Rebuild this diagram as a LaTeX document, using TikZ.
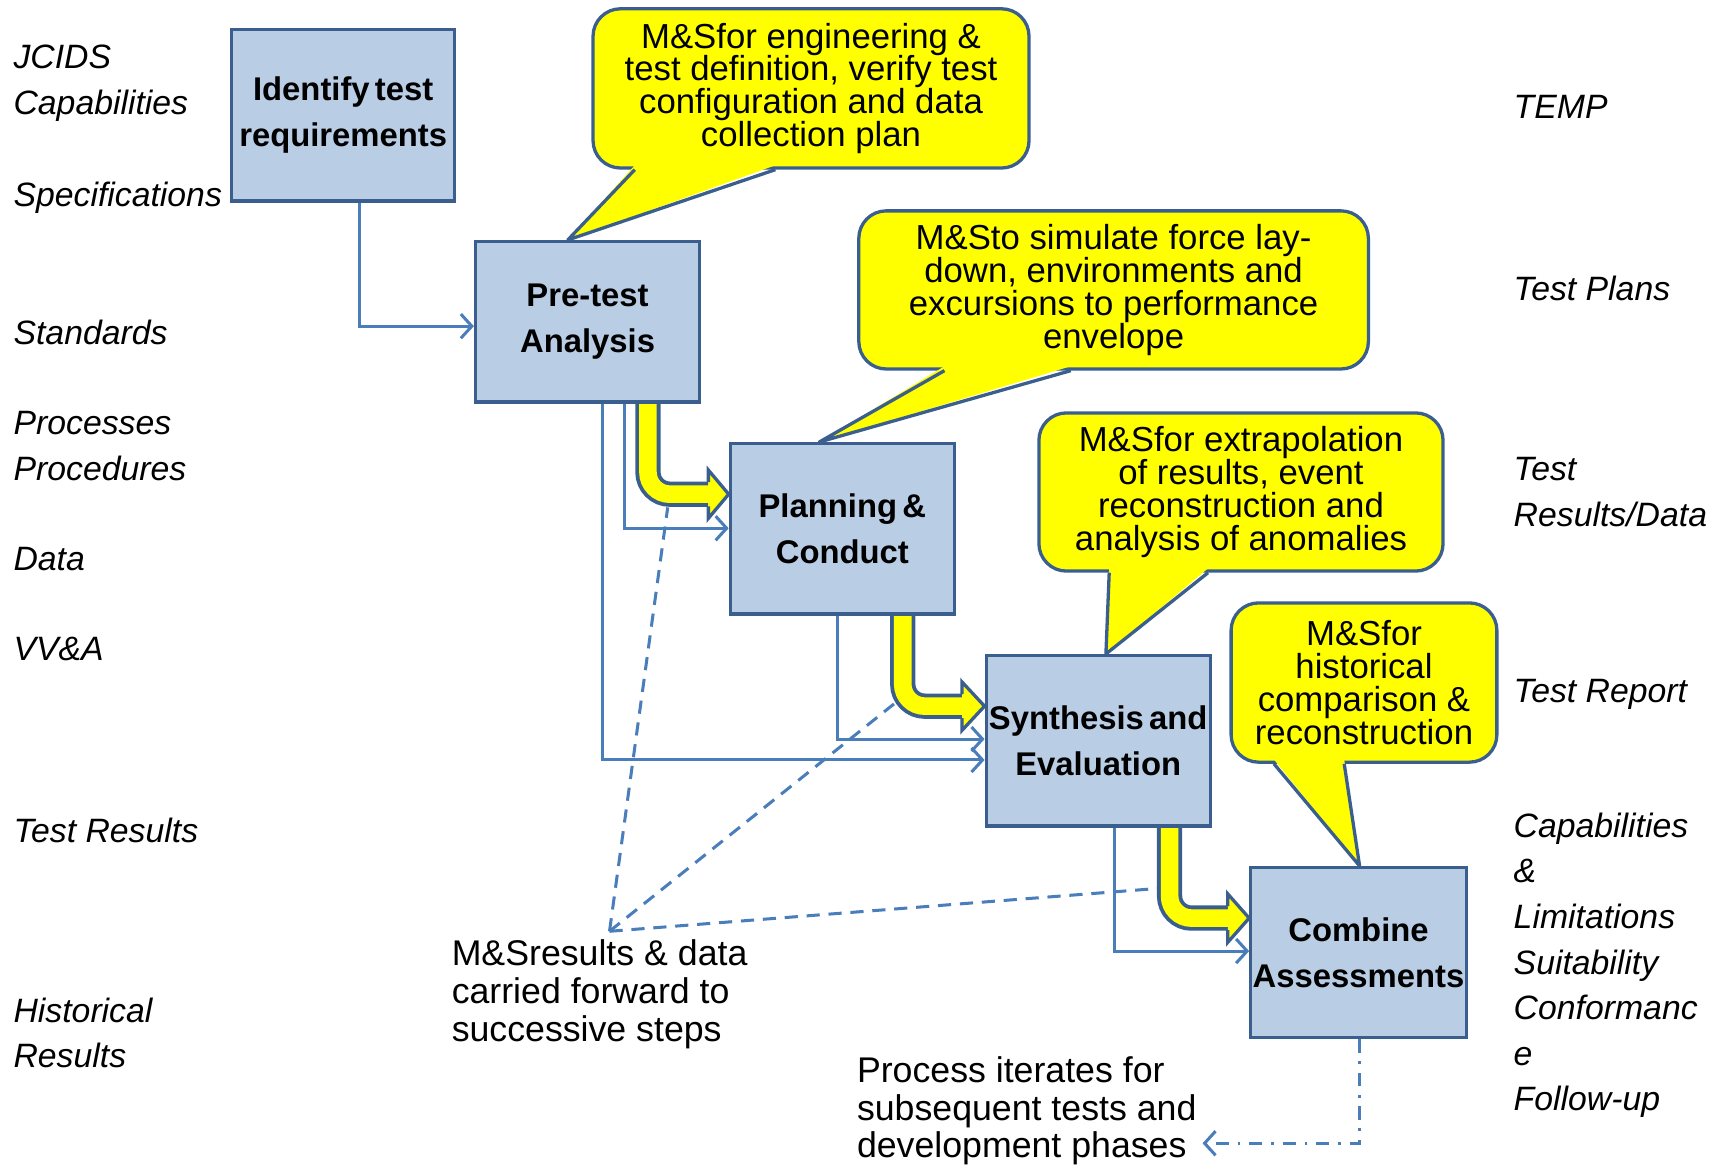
\documentclass[tikz,border=0pt]{standalone}
\usepackage{fontspec}
\setmainfont{Liberation Sans}
\usetikzlibrary{arrows.meta,calc,backgrounds}
\definecolor{boxfill}{HTML}{B9CDE5}
\definecolor{boxline}{HTML}{3A5F8F}
\definecolor{flowblue}{HTML}{4A7EBB}
\definecolor{calloutyellow}{HTML}{FFFF00}
\newcommand\boxfont{\fontsize{17}{24}\selectfont\bfseries\spaceskip=0.16em\relax}
\newcommand\calloutptr[4]{%
  \fill[calloutyellow] ($(#2,0 |- #1.south)+(0,-4)$) -- #4 -- ($(#3,0 |- #1.south)+(0,-4)$) -- cycle;
  \draw[boxline, line width=0.6mm, line join=round] (#2,0 |- #1.south) -- #4 -- (#3,0 |- #1.south);}
\newcommand\fatarrow[3]{%
  \draw[fatout] #1 |- #2;
  \draw[fatin] #1 |- ($#2+(2,0)$);
  \fill[calloutyellow] ($#2+(0,-22)$) -- #3 -- ($#2+(0,22)$) -- cycle;
  \draw[boxline, line width=0.6mm, line join=miter] ($#2+(0,-11)$) -- ($#2+(0,-22)$) -- #3 -- ($#2+(0,22)$) -- ($#2+(0,11)$);}

\begin{document}
\begin{tikzpicture}[
  x=0.2mm, y=-0.2mm,
  box/.style={draw=boxline, fill=boxfill, line width=0.6mm, minimum width=40.8mm, minimum height=31mm, align=center, font=\boxfont, inner sep=1pt},
  callout/.style={draw=boxline, fill=calloutyellow, line width=0.6mm, rounded corners=5mm, align=center, font=\fontsize{18}{17}\selectfont, inner sep=1pt},
  lbl/.style={anchor=west, align=left, font=\fontsize{17.5}{23.6}\selectfont\itshape, inner sep=0pt},
  note/.style={anchor=west, align=left, font=\fontsize{18.5}{19.6}\selectfont, inner sep=0pt},
  flow/.style={draw=flowblue, line width=0.55mm, -{Straight Barb[length=2mm,width=4.4mm]}},
  carry/.style={draw=flowblue, line width=0.55mm, dash pattern=on 2.4mm off 1.6mm},
  fatout/.style={draw=boxline, line width=4.6mm, rounded corners=4mm},
  fatin/.style={draw=calloutyellow, line width=3.2mm, rounded corners=4mm}
]
\useasboundingbox (0,0) rectangle (1568,1064);

\node[box, minimum width=40.6mm, minimum height=31.2mm] (ident) at (312.5,105) {Identify test\\requirements};
\node[box, minimum height=29.2mm] (pre) at (535,293) {Pre-test\\Analysis};
\node[box] (plan) at (767,481.5) {Planning \&\\Conduct};
\node[box] (syn) at (1000,674.5) {Synthesis and\\Evaluation};
\node[box, minimum width=38.8mm] (comb) at (1237,867.5) {Combine\\Assessments};

\node[callout, minimum width=79.4mm, minimum height=29mm] (msdef) at (738.5,80.5) {M\&Sfor engineering \&\\test definition, verify test\\configuration and data\\collection plan};
\node[callout, minimum width=92.8mm, minimum height=28.8mm] (mssim) at (1014,264) {M\&Sto simulate force lay-\\down,  environments and\\excursions to performance\\envelope};
\node[callout, minimum width=73.6mm, minimum height=28.8mm] (msext) at (1130,448) {M\&Sfor extrapolation\\of results, event\\reconstruction and\\analysis of anomalies};
\node[callout, minimum width=48.4mm, minimum height=29mm] (mshist) at (1242,621.5) {M\&Sfor\\historical\\comparison \&\\reconstruction};
\calloutptr{msdef}{578}{706}{(517,0 |- pre.north)}
\calloutptr{mssim}{860}{975}{(746,0 |- plan.north)}
\calloutptr{msext}{1010}{1100}{(1007,0 |- syn.north)}
\calloutptr{mshist}{1160}{1224}{(1238,0 |- comb.north)}

\coordinate (carryhub) at (555,848);
\coordinate (bend1) at (608,462);
\coordinate (bend2) at (814,641);
\coordinate (bend3) at (1054,809);
\coordinate (back) at (1095,1041);
\begin{scope}[on background layer]
\draw[carry] (carryhub) -- (bend1);
\draw[carry] (carryhub) -- (bend2);
\draw[carry] (carryhub) -- (bend3);
\fatarrow{(pre.south -| 590,0)}{(645,450)}{(plan.west |- 0,450)}
\fatarrow{(plan.south -| 822,0)}{(876,643)}{(syn.west |- 0,643)}
\fatarrow{(syn.south -| 1065,0)}{(1118,836)}{(comb.west |- 0,836)}
\end{scope}

\draw[flow] (ident.south -| 327,0) |- (pre.west |- 0,297);
\draw[flow] (pre.south -| 569,0) |- (plan.west |- 0,481);
\draw[flow] (pre.south -| 549,0) |- (syn.west |- 0,692);
\draw[flow] (plan.south -| 763,0) |- (syn.west |- 0,673);
\draw[flow] (syn.south -| 1015,0) |- (comb.west |- 0,866);
\draw[flow, dash pattern=on 2.4mm off 1.6mm on 0.5mm off 1.6mm] (comb.south -| 1238,0) |- (back);

\node[note] (carrytxt) at (411,905.5) {M\&Sresults \& data\\carried forward to\\successive steps};
\node[note] (iterate) at (780,1011.5) {Process iterates for\\subsequent tests and\\development phases};

\node[lbl] (jcids) at (12,76) {JCIDS\\Capabilities};
\node[lbl] (spec) at (12,180) {Specifications};
\node[lbl] (stds) at (12,303) {Standards};
\node[lbl] (procs) at (12,406) {Processes\\Procedures};
\node[lbl] (data) at (12,509) {Data};
\node[lbl] (vva) at (12,591) {VV\&A};
\node[lbl] (tres) at (12,756) {Test Results};
\node[lbl] (hist) at (12,940.5) {Historical\\Results};
\node[lbl] (temp) at (1378,97) {TEMP};
\node[lbl] (tplans) at (1378,263) {Test Plans};
\node[lbl] (tdata) at (1378,448) {Test\\Results/Data};
\node[lbl] (trep) at (1378,632) {Test Report};
\node[lbl] (caps) at (1378,879) {Capabilities\\\&\\Limitations\\Suitability\\Conformanc\\e\\Follow-up};
\end{tikzpicture}
\end{document}
